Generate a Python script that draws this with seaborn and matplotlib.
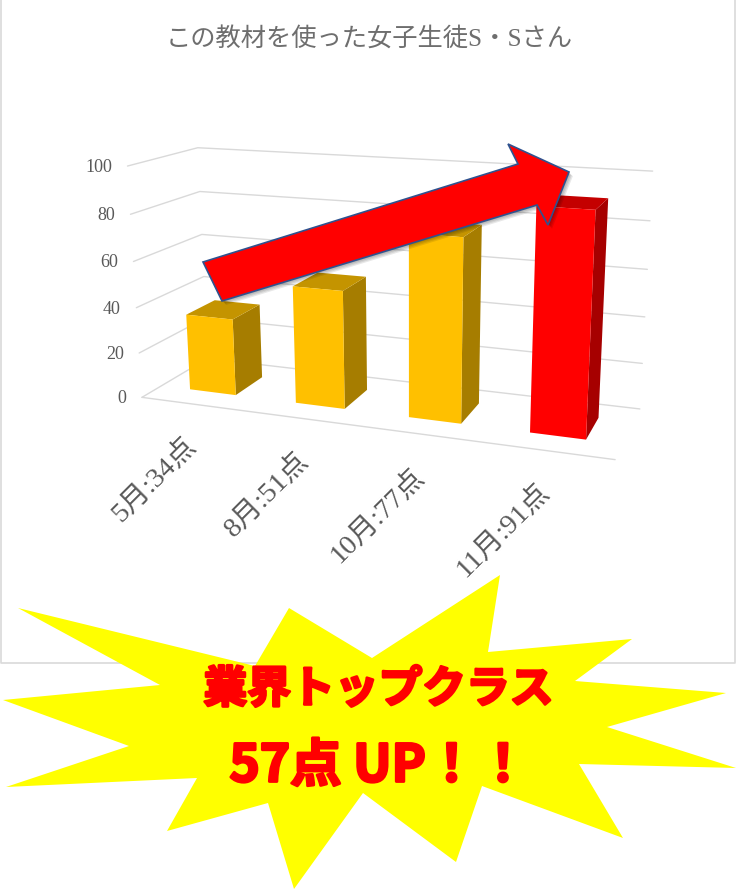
import numpy as np
import matplotlib
matplotlib.use("Agg")
import matplotlib.pyplot as plt
import matplotlib.patheffects as pe
import matplotlib.transforms as mtransforms
from matplotlib.patches import Polygon
import seaborn as sns

# ── Data ──────────────────────────────────────────────────
categories = ["5月:34点", "8月:51点", "10月:77点", "11月:91点"]
scores     = [34, 51, 77, 91]
bar_colors = ["#FFC000", "#FFC000", "#FFC000", "#FF0000"]
y_ticks    = [0, 20, 40, 60, 80, 100]

title_text = "この教材を使った女子生徒S・Sさん"
star_line1 = "業界トップクラス"
star_line2 = "57点 UP！！"

# ── Style ─────────────────────────────────────────────────
sns.set_theme(style="white")
SERIF_JP = ["Liberation Serif", "Noto Sans CJK JP"]
plt.rcParams["font.family"] = SERIF_JP
GREY = "#595959"
GRID = "#D9D9D9"
W, H = 736, 894

# pixel coords of the image (y down) -> display
px_tf = mtransforms.Affine2D().scale(1, -1).translate(0, H)

# ── Excel-like 3D camera, fitted on the chart box corners ─
# (category pos, value, depth) -> picture pixel
box_xyz = np.array([(-0.5, 0, 0), (3.5, 0, 0), (3.5, 0, 1), (-0.5, 0, 1),
                    (-0.5, 100, 0), (-0.5, 100, 1), (3.5, 100, 1),
                    (-0.5, 60, 0), (-0.5, 60, 1), (3.5, 60, 1)], float)
box_px = np.array([(141.5, 398), (615, 459.5), (640, 409), (208, 358),
                   (128, 166), (197, 148), (653, 171),
                   (133.5, 261), (202, 234.5), (647, 269.5)], float)

rows, rhs = [], []
for (x, v, z), (u, w) in zip(box_xyz, box_px):
    rows.append([x, v, z, 1, 0, 0, 0, 0, -u * x, -u * v, -u * z]); rhs.append(u)
    rows.append([0, 0, 0, 0, x, v, z, 1, -w * x, -w * v, -w * z]); rhs.append(w)
cam = np.append(np.linalg.lstsq(np.array(rows), np.array(rhs), rcond=None)[0], 1).reshape(3, 4)


def project(x, v, z):
    x, v = np.asarray(x, float), np.asarray(v, float)
    z = np.broadcast_to(z, x.shape)
    pts = np.stack([x, v, z, np.ones_like(x)], axis=-1) @ cam.T
    return pts[..., :2] / pts[..., 2:]


class DepthPlane(mtransforms.Transform):
    """Data (category, value) on a plane of constant depth -> display."""
    input_dims = 2
    output_dims = 2

    def __init__(self, z):
        super().__init__()
        self.z = z

    def transform_non_affine(self, values):
        return px_tf.transform(project(values[:, 0], values[:, 1], self.z))


fig = plt.figure(figsize=(W / 100, H / 100), dpi=100, facecolor="white")
ax = fig.add_axes([0, 0, 1, 1])

# ── Bars (seaborn), front faces put on the depth plane ────
sns.barplot(x=categories, y=scores, hue=categories, palette=bar_colors,
            width=0.44, saturation=1, legend=False, ax=ax)
ax.set_axis_off()

Z_FRONT, Z_BACK = 0.28, 0.72
for patch in list(ax.patches):
    x0, x1 = patch.get_x(), patch.get_x() + patch.get_width()
    top = patch.get_height()
    rgb = np.array(patch.get_facecolor()[:3])
    patch.set_transform(DepthPlane(Z_FRONT))
    patch.set_clip_on(False)
    patch.set_edgecolor("none")
    patch.set_zorder(3)
    side = [project(x1, 0, Z_FRONT), project(x1, top, Z_FRONT),
            project(x1, top, Z_BACK), project(x1, 0, Z_BACK)]
    roof = [project(x0, top, Z_FRONT), project(x1, top, Z_FRONT),
            project(x1, top, Z_BACK), project(x0, top, Z_BACK)]
    ax.add_patch(Polygon(side, fc=rgb * 0.65, ec="none", transform=px_tf, clip_on=False, zorder=2))
    ax.add_patch(Polygon(roof, fc=rgb * 0.77, ec="none", transform=px_tf, clip_on=False, zorder=2))

# ── Grid on the walls + floor ─────────────────────────────
x_lo, x_hi = -0.5, len(categories) - 0.5
for v in y_ticks:
    pts = [project(x_lo, v, 0), project(x_lo, v, 1), project(x_hi, v, 1)]
    xs, ys = zip(*pts)
    ax.plot(xs, ys, color=GRID, lw=1.0, transform=px_tf, clip_on=False, zorder=1)
    fx, fy = pts[0]
    ax.text(fx - 15.5, fy + 1.5, str(v), ha="right", va="center", fontsize=13,
            color=GREY, transform=px_tf)
xs, ys = zip(project(x_lo, 0, 0), project(x_hi, 0, 0))
ax.plot(xs, ys, color=GRID, lw=1.0, transform=px_tf, clip_on=False, zorder=1)

# category labels, rotated
label_xy = [(155, 480), (267, 495), (378, 516), (503, 531)]
for lab, (lx, ly) in zip(categories, label_xy):
    ax.text(lx, ly, lab, rotation=45, ha="center", va="center", fontsize=20.5,
            color=GREY, transform=px_tf)

ax.text(369, 39, title_text, ha="center", va="center", fontsize=18.2,
        color="#6E6E6E", transform=px_tf)

# chart frame
ax.plot([0.7, 0.7, 735.3, 735.3], [0, 663.3, 663.3, 0], color=GRID, lw=1.2,
        transform=px_tf, clip_on=False, zorder=1)

# ── Arrow over the bars ───────────────────────────────────
arrow_pts = np.array([(203, 262), (222, 301), (537, 205), (548, 225), (569, 172),
                      (508, 144), (518, 164)], float)
for d in (1, 2, 3, 4):
    ax.add_patch(Polygon(arrow_pts + d, fc="black", ec="none", alpha=0.09,
                         transform=px_tf, clip_on=False, zorder=5))
ax.add_patch(Polygon(arrow_pts, fc="#FF0000", ec="#2F528F", lw=1.2,
                     transform=px_tf, clip_on=False, zorder=6))

# ── Starburst callout ─────────────────────────────────────
star_pts = [(18, 608), (255, 666), (289, 608), (372, 658), (500, 575), (488, 652),
            (632, 639), (575, 681), (726, 693), (607, 727), (736, 768), (579, 764),
            (623, 838), (482, 786), (456, 862), (363, 793), (294, 889), (268, 803),
            (167, 831), (197, 778), (6, 787), (129, 746), (3, 700), (160, 685)]
ax.add_patch(Polygon(star_pts, fc="#FFFF00", ec="none", transform=px_tf,
                     clip_on=False, zorder=7))
heavy = [pe.withStroke(linewidth=2, foreground="#FF0000")]
ax.text(378.5, 689.5, star_line1, ha="center", va="center", fontsize=31.5, color="#FF0000",
        family="Noto Sans CJK JP", fontweight="bold", path_effects=heavy,
        transform=px_tf, zorder=8)
ax.text(379, 766, star_line2, ha="center", va="center", fontsize=37, color="#FF0000",
        family="Noto Sans CJK JP", fontweight="bold", path_effects=heavy,
        transform=px_tf, zorder=8)

fig.savefig("out.png", dpi=100, facecolor="white")
